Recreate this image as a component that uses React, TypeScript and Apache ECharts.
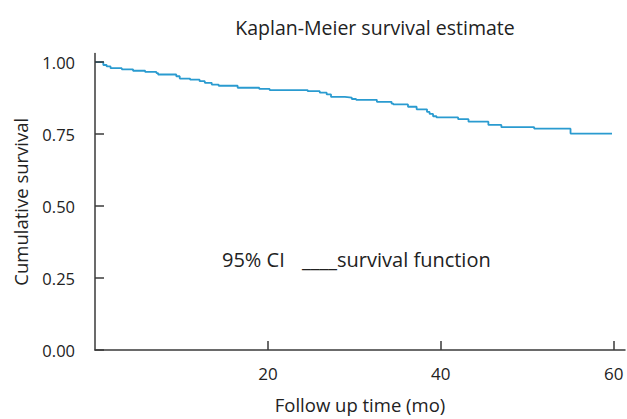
import React, { useEffect, useRef } from "react";
import * as echarts from "echarts";

const times = [0, 0.96, 1.35, 1.8, 3.1, 4.4, 5.8, 7.1, 7.3, 9.4, 9.8, 11.0, 12.1, 12.7, 13.5, 14.3, 16.5, 19.0, 20.2, 24.6, 26.0, 26.8, 27.3, 28.9, 29.7, 30.2, 32.6, 34.3, 34.5, 36.2, 37.2, 38.4, 38.7, 39.1, 39.5, 42.0, 43.2, 45.5, 47.0, 50.8, 55.0, 59.8];
const survival = [1.0, 0.99, 0.985, 0.979, 0.975, 0.97, 0.966, 0.962, 0.957, 0.951, 0.943, 0.939, 0.934, 0.928, 0.922, 0.918, 0.911, 0.907, 0.903, 0.899, 0.894, 0.888, 0.879, 0.877, 0.872, 0.869, 0.862, 0.856, 0.853, 0.845, 0.836, 0.827, 0.82, 0.812, 0.808, 0.802, 0.793, 0.782, 0.774, 0.769, 0.752, 0.752];
const xTicks = [20, 40, 60];
const yTicks = [0, 0.25, 0.5, 0.75, 1.0];

const FONT = "'Open Sans', sans-serif";

export default function App() {
  const ref = useRef<HTMLDivElement>(null);
  useEffect(() => {
    if (!ref.current) return;
    const chart = echarts.init(ref.current, undefined, { renderer: "svg" });
    const axisColor = "#3a3a3a";
    chart.setOption({
      animation: false,
      title: {
        text: "Kaplan-Meier survival estimate",
        left: 370,
        top: 12,
        textAlign: "center",
        textStyle: { fontFamily: FONT, fontSize: 19.5, fontWeight: "normal", color: "#222" },
      },
      grid: { left: 95, right: 2, top: 53.5, bottom: 64.7 },
      xAxis: {
        type: "value",
        min: 0,
        max: 61.3,
        name: "Follow up time (mo)",
        nameLocation: "middle",
        nameGap: 45,
        nameTextStyle: { fontFamily: FONT, fontSize: 18.5, color: "#222" },
        splitLine: { show: false },
        axisLine: { show: true, lineStyle: { color: axisColor, width: 1.5 } },
        axisTick: { show: true, inside: true, length: 9, customValues: xTicks, lineStyle: { color: axisColor, width: 1.5 } },
        axisLabel: { customValues: xTicks, margin: 15, fontFamily: FONT, fontSize: 17, color: "#222" },
        z: 3,
      },
      yAxis: {
        type: "value",
        min: 0,
        max: 1.03,
        name: "Cumulative survival",
        nameLocation: "middle",
        nameGap: 65,
        nameTextStyle: { fontFamily: FONT, fontSize: 18.5, color: "#222" },
        splitLine: { show: false },
        axisLine: { show: true, lineStyle: { color: axisColor, width: 1.5 } },
        axisTick: { show: true, inside: true, length: 9, customValues: yTicks, lineStyle: { color: axisColor, width: 1.5 } },
        axisLabel: {
          customValues: yTicks,
          margin: 20,
          fontFamily: FONT,
          fontSize: 16.5,
          color: "#222",
          formatter: (v: number) => v.toFixed(2),
        },
        z: 3,
      },
      graphic: [
        {
          type: "text",
          left: 222,
          top: 249,
          style: { text: "95% CI", fontFamily: FONT, fontSize: 20, fill: "#222" },
        },
        {
          type: "text",
          left: 302,
          top: 249,
          style: { text: "____survival function", fontFamily: FONT, fontSize: 20, fill: "#222" },
        },
      ],
      series: [
        {
          type: "line",
          step: "end",
          showSymbol: false,
          symbol: "none",
          data: times.map((t, i) => [t, survival[i]]),
          lineStyle: { color: "#2a9bd0", width: 1.8 },
          z: 2,
        },
      ],
    });
    return () => chart.dispose();
  }, []);
  return <div ref={ref} style={{ width: 627, height: 419, position: "absolute", left: 0, top: 0 }} />;
}
